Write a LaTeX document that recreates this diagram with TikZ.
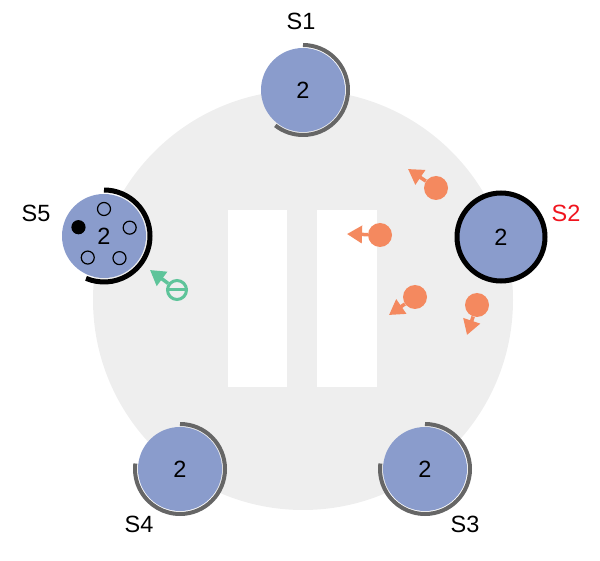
\documentclass[tikz,border=0pt]{standalone}
\usepackage{fontspec}
\setmainfont{Liberation Sans}
\usepackage{tikz}
\usetikzlibrary{arrows.meta, positioning, calc}
\definecolor{serverblue}{HTML}{8A9CCC}
\definecolor{ringgray}{HTML}{EEEEEE}
\definecolor{timergray}{HTML}{666666}
\definecolor{msgorange}{HTML}{F4895F}
\definecolor{replygreen}{HTML}{5EC49A}
\definecolor{candred}{HTML}{F0141E}

\begin{document}
\begin{tikzpicture}[
  x=1pt, y=1pt,
  font=\fontsize{23.5}{28}\selectfont,
  server/.style={circle, fill=serverblue, minimum size=84pt, inner sep=0pt},
  candidate/.style={circle, fill=serverblue, draw=black, line width=5pt,
                    minimum size=88pt, inner sep=0pt},
  timer/.style={timergray, line width=4pt},
  leadtimer/.style={black, line width=5pt},
  vote/.style={circle, draw=black, line width=1.2pt, minimum size=13pt, inner sep=0pt},
  granted/.style={vote, fill=black},
  msg/.style={circle, fill=msgorange, minimum size=24pt, inner sep=0pt},
  msgarr/.style={msgorange, line width=3.5pt, -{Triangle[length=15pt, width=17pt]}},
  reply/.style={circle, draw=replygreen, line width=3pt, minimum size=19pt, inner sep=0pt},
  replyarr/.style={replygreen, line width=3.5pt, -{Triangle[length=15pt, width=17pt]}},
  lbl/.style={inner sep=0pt}
]
  \useasboundingbox (0,0) rectangle (600,-561);

  % cluster ring and the two pillars
  \fill[ringgray] (303,-300) circle[radius=210];
  \fill[white] (228,-210) rectangle (287,-387);
  \fill[white] (317,-210) rectangle (377,-387);

  % servers
  \node[server]    (s1) at (303,-90)  {2};
  \node[candidate] (s2) at (501,-237) {2};
  \node[server]    (s3) at (425,-469) {2};
  \node[server]    (s4) at (180,-469) {2};
  \node[server]    (s5) at (104,-236) {2};

  \node[lbl]            (l1) at (301,-21)  {S1};
  \node[lbl, candred]   (l2) at (566,-213) {S2};
  \node[lbl]            (l3) at (465,-524) {S3};
  \node[lbl]            (l4) at (139,-524) {S4};
  \node[lbl]            (l5) at (36,-213)  {S5};

  % election timers
  \draw[timer] (s1.center) ++(90:45) arc[start angle=90, end angle=-128, radius=45];
  \draw[timer] (s3.center) ++(90:45) arc[start angle=90, end angle=-187, radius=45];
  \draw[timer] (s4.center) ++(90:45) arc[start angle=90, end angle=-187, radius=45];
  \draw[leadtimer] (s5.center) ++(90:46) arc[start angle=90, end angle=-113, radius=46];

  % votes of S5
  \node[granted] (g5) at ($(s5)+(161:27)$) {};
  \foreach \a/\n in {90/a, 18/b, -55/c, -127/d}
    \node[vote] (v\n) at ($(s5)+(\a:27)$) {};

  % RequestVote messages
  \node[msg] (m1) at (436,-188) {};
  \node[msg] (m2) at (380,-235) {};
  \node[msg] (m3) at (415,-297) {};
  \node[msg] (m4) at (477,-305) {};
  \coordinate (m1t) at (408,-169);
  \coordinate (m2t) at (347,-234);
  \coordinate (m3t) at (389,-315);
  \coordinate (m4t) at (467,-335);
  \foreach \m in {m1, m2, m3, m4}
    \draw[msgarr] (\m) -- (\m t);

  % vote reply
  \node[reply] (r1) at (177,-290) {};
  \coordinate (r1t) at (150,-270);
  \draw[replygreen, line width=3pt] (r1.west) -- (r1.east);
  \draw[replyarr] (r1) -- (r1t);
\end{tikzpicture}
\end{document}
